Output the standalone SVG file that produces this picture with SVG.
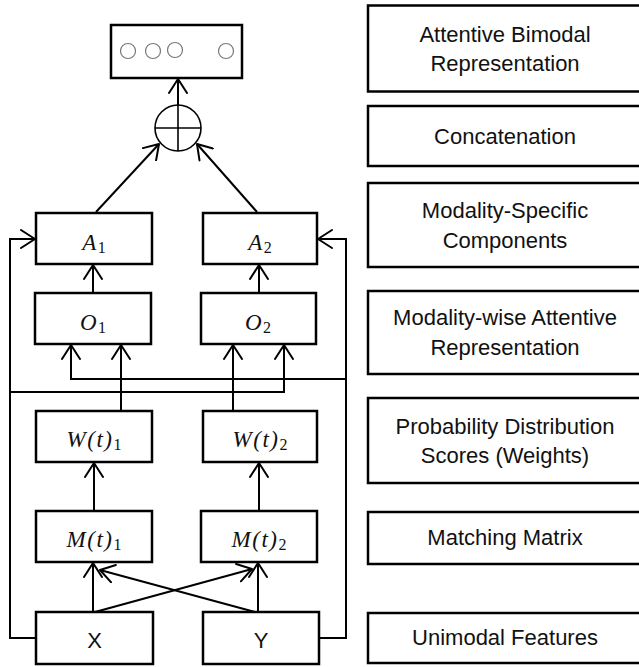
<svg xmlns="http://www.w3.org/2000/svg" width="639" height="667" viewBox="0 0 639 667">
<style>
.box{fill:#fff;stroke:#000;stroke-width:2.5}
.lay{fill:#fff;stroke:#000;stroke-width:2.5}
.ca{fill:none;stroke:#000;stroke-width:2;marker-end:url(#ah)}
.lbl{font-family:"Liberation Sans",Arial,sans-serif;font-size:22px;text-anchor:middle;fill:#111}
.m{font-family:"Liberation Serif","Times New Roman",serif;font-style:italic;font-size:23px;letter-spacing:1.5px;text-anchor:middle;fill:#111}
.sub{font-style:normal;font-size:16px;letter-spacing:0}
.dot{fill:none;stroke:#777;stroke-width:1.2}
</style>
<defs>
<marker id="ah" viewBox="0 0 16 20" refX="15" refY="10" markerWidth="16" markerHeight="20" markerUnits="userSpaceOnUse" orient="auto">
<path d="M1,1 L15,10 L1,19" fill="none" stroke="#000" stroke-width="2" stroke-linejoin="round" stroke-linecap="round"/>
</marker>
</defs>

<g id="layers">
<g id="layer-attentive"><rect class="lay" x="368" y="5.5" width="280" height="86"/><text class="lbl" x="505" y="42">Attentive Bimodal</text><text class="lbl" x="505" y="71">Representation</text></g>
<g id="layer-concat"><rect class="lay" x="368" y="106" width="280" height="60"/><text class="lbl" x="505" y="144">Concatenation</text></g>
<g id="layer-specific"><rect class="lay" x="368" y="183" width="280" height="84"/><text class="lbl" x="505" y="218">Modality-Specific</text><text class="lbl" x="505" y="248">Components</text></g>
<g id="layer-wise"><rect class="lay" x="368" y="291" width="280" height="83"/><text class="lbl" x="505" y="325">Modality-wise Attentive</text><text class="lbl" x="505" y="355">Representation</text></g>
<g id="layer-prob"><rect class="lay" x="368" y="398" width="280" height="85"/><text class="lbl" x="505" y="434">Probability Distribution</text><text class="lbl" x="505" y="463">Scores (Weights)</text></g>
<g id="layer-matching"><rect class="lay" x="368" y="512" width="280" height="52"/><text class="lbl" x="505" y="545">Matching Matrix</text></g>
<g id="layer-unimodal"><rect class="lay" x="368" y="613" width="280" height="50"/><text class="lbl" x="505" y="645">Unimodal Features</text></g>
</g>

<g id="connectors">
<line class="ca" x1="178" y1="105" x2="178" y2="79"/>
<line class="ca" x1="96" y1="212" x2="159" y2="144"/>
<line class="ca" x1="257" y1="212" x2="197" y2="144"/>
<line class="ca" x1="93" y1="293" x2="93" y2="265"/>
<line class="ca" x1="259" y1="293" x2="259" y2="265"/>
<line class="ca" x1="121" y1="411" x2="121" y2="345"/>
<line class="ca" x1="233" y1="411" x2="233" y2="345"/>
<line class="ca" x1="94" y1="511" x2="94" y2="463"/>
<line class="ca" x1="259" y1="511" x2="259" y2="463"/>
<line class="ca" x1="93" y1="612" x2="93" y2="563"/>
<line class="ca" x1="258" y1="612" x2="258" y2="563"/>
<line class="ca" x1="95" y1="612" x2="252" y2="569"/>
<line class="ca" x1="255" y1="612" x2="100" y2="570"/>
<polyline class="ca" points="36,638 10,638 10,239 35,239"/>
<polyline class="ca" points="10,392 284,392 284,345"/>
<polyline class="ca" points="319,638 346,638 346,239 318,239"/>
<polyline class="ca" points="346,379 71,379 71,345"/>
</g>

<g id="output">
<rect class="box" x="111" y="25" width="131" height="53"/>
<circle class="dot" cx="128" cy="51" r="7.5"/>
<circle class="dot" cx="153" cy="51" r="7.5"/>
<circle class="dot" cx="175" cy="50" r="7.5"/>
<circle class="dot" cx="226" cy="51" r="7.5"/>
</g>
<g id="concat">
<circle cx="178" cy="128" r="23" fill="#fff" stroke="#000" stroke-width="1.6"/>
<line x1="155" y1="128" x2="201" y2="128" stroke="#000" stroke-width="1.6"/>
<line x1="178" y1="105" x2="178" y2="151" stroke="#000" stroke-width="1.6"/>
</g>
<g id="A1"><rect class="box" x="36" y="213" width="116" height="51"/><text class="m" x="94" y="250">A<tspan class="sub" dy="3">1</tspan></text></g>
<g id="A2"><rect class="box" x="203" y="213" width="114" height="51"/><text class="m" x="260" y="250">A<tspan class="sub" dy="3">2</tspan></text></g>
<g id="O1"><rect class="box" x="35" y="293" width="116" height="51"/><text class="m" x="93" y="330">O<tspan class="sub" dy="3">1</tspan></text></g>
<g id="O2"><rect class="box" x="201" y="293" width="115" height="51"/><text class="m" x="258" y="330">O<tspan class="sub" dy="3">2</tspan></text></g>
<g id="W1"><rect class="box" x="36" y="411" width="116" height="51"/><text class="m" x="94" y="447">W(t)<tspan class="sub" dy="3">1</tspan></text></g>
<g id="W2"><rect class="box" x="203" y="411" width="114" height="51"/><text class="m" x="260" y="447">W(t)<tspan class="sub" dy="3">2</tspan></text></g>
<g id="M1"><rect class="box" x="36" y="511" width="116" height="51"/><text class="m" x="94" y="547">M(t)<tspan class="sub" dy="3">1</tspan></text></g>
<g id="M2"><rect class="box" x="201" y="511" width="116" height="51"/><text class="m" x="259" y="547">M(t)<tspan class="sub" dy="3">2</tspan></text></g>
<g id="X"><rect class="box" x="36" y="612" width="117" height="52"/><text class="lbl" x="94.5" y="648">X</text></g>
<g id="Y"><rect class="box" x="203" y="612" width="116" height="52"/><text class="lbl" x="261" y="648">Y</text></g>
</svg>
